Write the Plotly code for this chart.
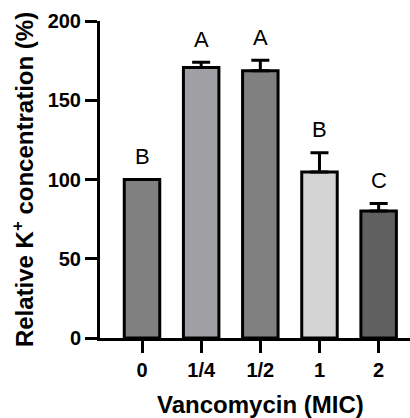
import plotly.graph_objects as go

categories = ["0", "1/4", "1/2", "1", "2"]
values = [100, 170.6, 168.6, 104.7, 80.2]
errors = [0, 3.3, 6.7, 12.2, 4.6]
letters = ["B", "A", "A", "B", "C"]
colors = ["#808080", "#a0a0a4", "#808080", "#d4d4d4", "#606060"]

FONT = "Arial, 'Liberation Sans', sans-serif"

fig = go.Figure()
fig.add_trace(go.Bar(
    x=list(range(len(categories))),
    y=values,
    width=0.6,
    marker=dict(color=colors, line=dict(color="black", width=3)),
    error_y=dict(type="data", array=errors, arrayminus=[0] * len(errors),
                 symmetric=False, color="black", thickness=3, width=9),
    showlegend=False,
))

for i, (v, e, t) in enumerate(zip(values, errors, letters)):
    fig.add_annotation(x=i, y=v + e, text=t, showarrow=False,
                       xref="x", yref="y", yanchor="middle", yshift=23,
                       font=dict(family=FONT, size=22, color="black"))

# x-axis title as a positioned text
fig.add_annotation(x=0.5, y=0, xref="paper", yref="paper", text="Vancomycin (MIC)",
                   showarrow=False, xanchor="center", yanchor="middle",
                   xshift=5, yshift=-66,
                   font=dict(family=FONT, size=24, weight="bold", color="black"))

fig.update_layout(
    width=410, height=418,
    margin=dict(l=100, r=0, t=21, b=80, pad=0),
    paper_bgcolor="white", plot_bgcolor="white",
    font=dict(family=FONT, color="black"),
    bargap=0.4,
)
fig.update_xaxes(
    tickmode="array", tickvals=list(range(len(categories))), ticktext=categories,
    range=[-0.71, 4.53], automargin=False,
    showline=True, linecolor="black", linewidth=3,
    ticks="outside", ticklen=12, tickwidth=3, tickcolor="black",
    showgrid=False, zeroline=False,
    tickfont=dict(family=FONT, size=20, weight="bold"),
)
fig.update_yaxes(
    range=[0, 200], tickvals=[0, 50, 100, 150, 200], automargin=False,
    showline=True, linecolor="black", linewidth=3,
    ticks="outside", ticklen=12, tickwidth=3, tickcolor="black",
    showgrid=False, zeroline=False,
    tickfont=dict(family=FONT, size=20, weight="bold"),
    title=dict(text="Relative K<sup>+</sup> concentration (%)",
               font=dict(family=FONT, size=24, weight="bold"), standoff=8),
)

fig.write_html("out.html", config={"displayModeBar": False},
               post_script="document.body.style.margin='0px';document.body.style.overflow='hidden';")
